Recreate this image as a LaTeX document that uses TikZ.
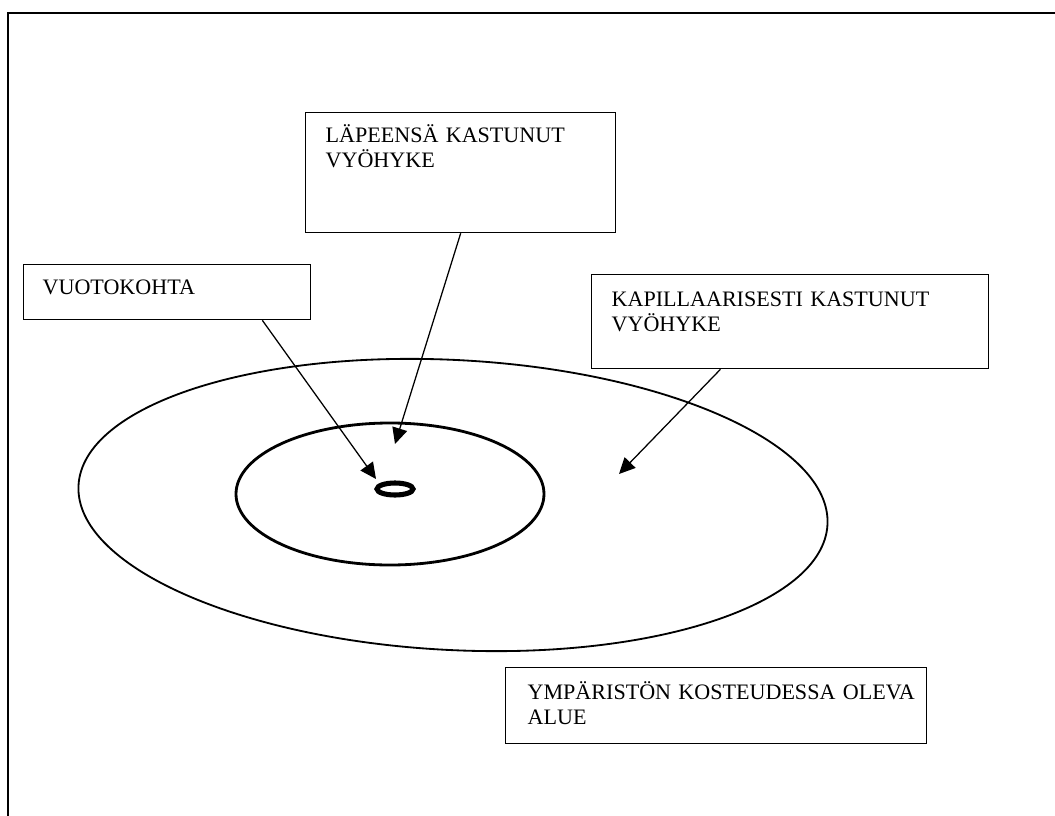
\documentclass[tikz,border=0pt]{standalone}
\usepackage{fontspec}
\setmainfont{Liberation Serif}
\usetikzlibrary{arrows.meta,calc}

\begin{document}
\begin{tikzpicture}[x=0.025cm,y=-0.025cm,
  box/.style={draw,rectangle,line width=0.9pt,anchor=north west,inner xsep=0.5cm,inner ysep=0pt,align=left,font=\fontsize{15.7}{17.8}\selectfont},
  pointer/.style={-{Triangle[length=0.4cm,width=0.38cm]},line width=0.9pt}]
\useasboundingbox (0,0) rectangle (1055,816);
\draw[line width=2pt] (8,816)--(8,13)--(1055,13);
% zones
\draw[line width=1.3pt,rotate around={-3:(453,505)}] (453,505) ellipse [x radius=375,y radius=145];
\draw[line width=2pt] (390,494) ellipse [x radius=154,y radius=71];
\draw[line width=3.6pt] (395,489) ellipse [x radius=18,y radius=6];
% labels
\node[box,text width=6.75cm,text height=0.75cm,text depth=2.25cm] at (305,112) (lap) {LÄPEENSÄ KASTUNUT\\VYÖHYKE};
\node[box,inner xsep=0.475cm,text width=6.225cm,text height=0.75cm,text depth=0.625cm] at (23,264) (vuoto) {VUOTOKOHTA};
\node[box,text width=8.925cm,text height=0.8cm,text depth=1.55cm] at (591,274) (kapi) {KAPILLAARISESTI KASTUNUT\\VYÖHYKE};
\node[box,inner xsep=0.55cm,text width=9.425cm,text height=0.8cm,text depth=1.1cm] at (505,667) (ymp) {\mbox{YMPÄRISTÖN KOSTEUDESSA OLEVA}\\ALUE};
\coordinate (wetend) at (395,444);
\coordinate (leakend) at (376,479);
\coordinate (capend) at (619,474);
\draw[pointer] (lap.south)--(wetend);
\draw[pointer] ($(vuoto.south west)!0.83!(vuoto.south east)$)--(leakend);
\draw[pointer] ($(kapi.south west)!0.325!(kapi.south east)$)--(capend);
\end{tikzpicture}
\end{document}
